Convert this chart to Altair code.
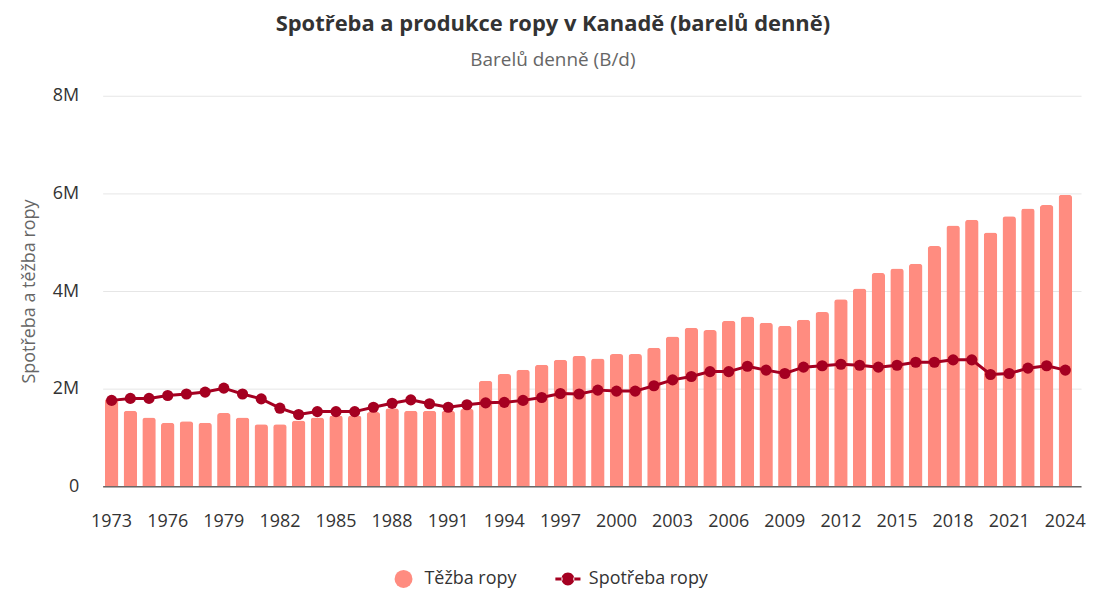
import altair as alt
import pandas as pd

years = list(range(1973, 2025))
production_m = [1.80, 1.55, 1.41, 1.30, 1.33, 1.30, 1.50, 1.41, 1.27, 1.27,
                1.35, 1.41, 1.45, 1.45, 1.52, 1.60, 1.55, 1.55, 1.55, 1.59,
                2.16, 2.30, 2.39, 2.49, 2.59, 2.67, 2.62, 2.71, 2.71, 2.84,
                3.07, 3.25, 3.20, 3.39, 3.48, 3.35, 3.29, 3.41, 3.57, 3.83,
                4.05, 4.37, 4.46, 4.56, 4.92, 5.34, 5.46, 5.20, 5.53, 5.69,
                5.76, 5.97]
consumption_m = [1.76, 1.80, 1.80, 1.86, 1.89, 1.93, 2.01, 1.89, 1.79, 1.60,
                 1.47, 1.53, 1.53, 1.53, 1.62, 1.70, 1.77, 1.69, 1.62, 1.67,
                 1.71, 1.72, 1.76, 1.82, 1.90, 1.89, 1.97, 1.95, 1.95, 2.06,
                 2.18, 2.25, 2.35, 2.35, 2.46, 2.38, 2.31, 2.44, 2.47, 2.50,
                 2.48, 2.44, 2.48, 2.54, 2.54, 2.59, 2.59, 2.29, 2.31, 2.42,
                 2.47, 2.38]
series_names = ["Těžba ropy", "Spotřeba ropy"]
series_colors = ["#FF8C80", "#A50021"]
x_tick_years = list(range(1973, 2025, 3))
y_ticks = [0, 2e6, 4e6, 6e6, 8e6]

prod_df = pd.DataFrame({"rok": years, "hodnota": [v * 1e6 for v in production_m], "serie": series_names[0]})
cons_df = pd.DataFrame({"rok": years, "hodnota": [v * 1e6 for v in consumption_m], "serie": series_names[1]})

FONT = "Open Sans"

color_scale = alt.Scale(domain=series_names, range=series_colors)
legend_shape = ("datum.value === 'Spotřeba ropy' ? "
                "'M-1.4,-0.17L-0.6,-0.17L-0.6,0.17L-1.4,0.17Z "
                "M0.6,-0.17L1.4,-0.17L1.4,0.17L0.6,0.17Z "
                "M-0.72,0A0.72,0.72 0 1,0 0.72,0A0.72,0.72 0 1,0 -0.72,0Z' "
                ": 'circle'")

x_enc = alt.X("rok:O",
              scale=alt.Scale(paddingInner=0.28, paddingOuter=0.3, align=0.2),
              axis=alt.Axis(title=None, values=x_tick_years, labelAngle=0,
                            labelFontSize=18, labelColor="#333333", labelPadding=26,
                            ticks=False, domainColor="#666666", domainWidth=1.5,
                            labelFont=FONT))
y_enc = alt.Y("hodnota:Q",
              scale=alt.Scale(domain=[0, 8e6]),
              axis=alt.Axis(title="Spotřeba a těžba ropy", values=y_ticks,
                            labelExpr="datum.value == 0 ? '0' : format(datum.value / 1e6, 'd') + 'M'",
                            labelFontSize=18, labelColor="#333333", labelPadding=24,
                            ticks=False, domain=False, gridColor="#e6e6e6",
                            titleFontSize=18, titleFontWeight="normal", titleColor="#666666",
                            titlePadding=14, labelFont=FONT, titleFont=FONT))
color_enc = alt.Color("serie:N", scale=color_scale,
                      legend=alt.Legend(title=None, orient="none", direction="horizontal",
                                        legendX=293, legendY=476,
                                        labelFontSize=18, labelColor="#333333", labelFont=FONT,
                                        labelOffset=12,
                                        symbolSize=324, columnPadding=38,
                                        symbolType={"expr": legend_shape},
                                        symbolStrokeWidth=0, symbolOpacity=1))

bars = alt.Chart(prod_df).mark_bar(cornerRadiusTopLeft=3, cornerRadiusTopRight=3).encode(
    x=x_enc, y=y_enc, color=color_enc)
line = alt.Chart(cons_df).mark_line(strokeWidth=3, point=alt.OverlayMarkDef(size=125, filled=True, opacity=1)).encode(
    x=x_enc, y=y_enc, color=color_enc)

chart = alt.layer(bars, line).properties(
    width=982, height=392,
    title=alt.TitleParams(text="Spotřeba a produkce ropy v Kanadě (barelů denně)",
                          subtitle="Barelů denně (B/d)",
                          anchor="middle", frame="bounds", font=FONT, fontSize=22, fontWeight="bold",
                          color="#333333", subtitleFont=FONT, subtitleFontSize=19,
                          subtitleColor="#666666", subtitlePadding=15, offset=16),
    padding={"left": 12, "top": 4, "right": 0, "bottom": 0},
).configure(font=FONT).configure_view(stroke=None)

chart.save("out.html", embed_options={"renderer": "svg", "actions": False})
